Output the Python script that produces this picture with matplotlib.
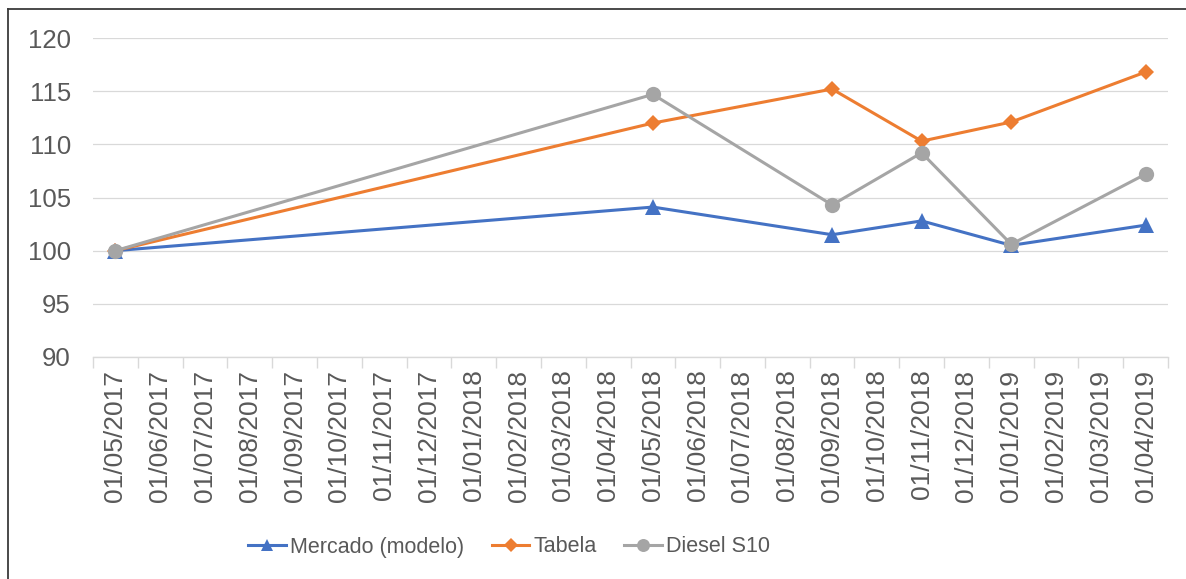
import matplotlib
matplotlib.use("Agg")
import matplotlib.pyplot as plt
from matplotlib.lines import Line2D

# Monthly category axis
months = [
    "01/05/2017", "01/06/2017", "01/07/2017", "01/08/2017", "01/09/2017",
    "01/10/2017", "01/11/2017", "01/12/2017", "01/01/2018", "01/02/2018",
    "01/03/2018", "01/04/2018", "01/05/2018", "01/06/2018", "01/07/2018",
    "01/08/2018", "01/09/2018", "01/10/2018", "01/11/2018", "01/12/2018",
    "01/01/2019", "01/02/2019", "01/03/2019", "01/04/2019",
]

# Observation dates and index values (base 100)
obs_dates = ["01/05/2017", "01/05/2018", "01/09/2018", "01/11/2018", "01/01/2019", "01/04/2019"]
mercado = [100.0, 104.1, 101.5, 102.8, 100.5, 102.4]
tabela = [100.0, 112.0, 115.2, 110.3, 112.1, 116.8]
diesel = [100.0, 114.7, 104.3, 109.2, 100.6, 107.2]

y_ticks = [90, 95, 100, 105, 110, 115, 120]

plt.rcParams["font.family"] = ["Liberation Sans", "DejaVu Sans"]
text_color = "#595959"

W, H = 1186, 579
fig = plt.figure(figsize=(W / 100, H / 100), dpi=100)
ax = fig.add_axes([93 / W, 1 - 357 / H, (1168 - 93) / W, (357 - 38) / H])

xs = [months.index(d) for d in obs_dates]

series = [
    ("Mercado (modelo)", mercado, "#4472C4", "^", 11),
    ("Tabela", tabela, "#ED7D31", "D", 8),
    ("Diesel S10", diesel, "#A5A5A5", "o", 11),
]
handles = []
for name, vals, color, marker, ms in series:
    ax.plot(xs, vals, color=color, lw=2.2, marker=marker, markersize=ms,
            markeredgewidth=0, zorder=3)
    handles.append(Line2D([], [], color=color, lw=2.2, marker=marker,
                          markersize=ms * 0.85, markeredgewidth=0, label=name))

ax.set_xlim(-0.5, len(months) - 0.5)
ax.set_ylim(90, 120)
ax.set_yticks(y_ticks)
ax.set_yticklabels([str(v) for v in y_ticks])
ax.grid(axis="y", color="#D9D9D9", lw=0.9)
ax.set_axisbelow(True)

# Category labels centred, tick marks at category boundaries
ax.set_xticks(range(len(months)))
ax.set_xticklabels(months, rotation=90)
ax.tick_params(axis="x", which="major", length=0, pad=9, labelsize=19,
               labelcolor=text_color)
ax.set_xticks([i - 0.5 for i in range(len(months) + 1)], minor=True)
ax.tick_params(axis="x", which="minor", length=8, width=1, color="#D9D9D9",
               direction="out")
ax.tick_params(axis="y", length=0, pad=16, labelsize=18.5, labelcolor=text_color)

for s in ("top", "right", "left"):
    ax.spines[s].set_visible(False)
ax.spines["bottom"].set_color("#D9D9D9")
ax.spines["bottom"].set_linewidth(1)

fig.legend(handles=handles, loc="center", ncol=3, frameon=False,
           bbox_to_anchor=(509 / W, 1 - 547 / H), fontsize=15.5,
           labelcolor=text_color, handlelength=1.75, handletextpad=0.17,
           columnspacing=1.3)

# Outer chart frame
fig.add_artist(Line2D([8 / W, 8 / W], [0, 1 - 9 / H], color="#3A3A3A", lw=1.3,
                      transform=fig.transFigure))
fig.add_artist(Line2D([8 / W, 1], [1 - 9 / H, 1 - 9 / H], color="#3A3A3A", lw=1.3,
                      transform=fig.transFigure))

fig.savefig("out.png", dpi=100, facecolor="white")
